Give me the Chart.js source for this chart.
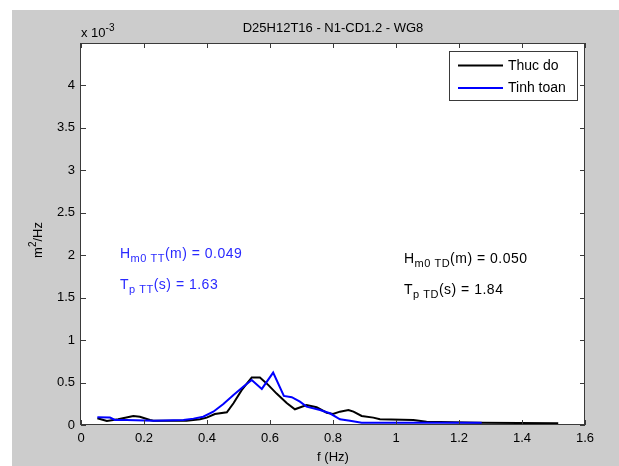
<!DOCTYPE html>
<html>
<head>
<meta charset="utf-8">
<script src="https://cdn.jsdelivr.net/npm/chart.js@4/dist/chart.umd.min.js"></script>
<style>
  html, body { margin: 0; padding: 0; background: #ffffff; }
  #wrap { width: 619px; height: 466px; }
</style>
</head>
<body>
<div id="wrap"><canvas id="c" width="619" height="466"></canvas></div>
<script>
// Wave spectrum at gauge WG8, spectral density in units of 1e-3 m^2/Hz
const chartTitle = 'D25H12T16 - N1-CD1.2 - WG8';
const seriesNames = ['Thuc do', 'Tinh toan'];

// Measured spectrum (Thuc do)
const measuredFreq = [0.052, 0.082, 0.118, 0.166, 0.187, 0.219, 0.23, 0.335, 0.378, 0.399,
  0.425, 0.463, 0.484, 0.51, 0.542, 0.568, 0.595, 0.621, 0.653, 0.679,
  0.716, 0.748, 0.78, 0.80, 0.822, 0.849, 0.865, 0.891, 0.928, 0.949,
  1.055, 1.097, 1.267, 1.515];
const measuredDensity = [0.08, 0.047, 0.067, 0.106, 0.098, 0.059, 0.05, 0.05, 0.067, 0.087,
  0.13, 0.15, 0.256, 0.41, 0.56, 0.56, 0.47, 0.37, 0.26, 0.185,
  0.236, 0.209, 0.145, 0.13, 0.157, 0.177, 0.157, 0.106, 0.087, 0.067,
  0.059, 0.039, 0.027, 0.02];

// Computed spectrum (Tinh toan)
const computedFreq = [0.052, 0.092, 0.108, 0.145, 0.23, 0.325, 0.357, 0.388, 0.42, 0.452,
  0.484, 0.515, 0.542, 0.574, 0.61, 0.644, 0.669, 0.695, 0.716, 0.759,
  0.79, 0.822, 0.854, 0.891, 1.272];
const computedDensity = [0.091, 0.087, 0.059, 0.059, 0.05, 0.059, 0.075, 0.098, 0.157, 0.248,
  0.354, 0.45, 0.53, 0.425, 0.617, 0.342, 0.327, 0.275, 0.216, 0.177,
  0.138, 0.067, 0.05, 0.027, 0.027];

// Axis ranges and tick steps
const xRange = [0, 1.6];
const xStep = 0.2;
const yRange = [0, 4.5];
const yStep = 0.5;
const yTickMax = 4;

// Wave parameters printed inside the axes
const computedStats = { hm0: '0.049', tp: '1.63' };
const measuredStats = { hm0: '0.050', tp: '1.84' };

const FONT = '"Liberation Sans", Arial, Helvetica, sans-serif';
const BLUE = '#0000ff';
const AXIS_COLOR = '#3a3a3a';

function toPoints(xs, ys) {
  return xs.map((x, i) => ({ x: x, y: ys[i] }));
}

// Draw a run of text pieces, some of them sub- or superscripted
function drawRich(ctx, x, y, parts, size, color, spacing) {
  ctx.save();
  ctx.fillStyle = color;
  ctx.textBaseline = 'alphabetic';
  ctx.textAlign = 'left';
  if ('letterSpacing' in ctx) ctx.letterSpacing = (spacing || 0) + 'px';
  let cx = x;
  for (const p of parts) {
    const s = p.sub || p.sup ? Math.round(size * 0.78) : size;
    ctx.font = s + 'px ' + FONT;
    const dy = p.sub ? 4 : (p.sup ? -6 : 0);
    ctx.fillText(p.t, cx, y + dy);
    cx += ctx.measureText(p.t).width;
  }
  ctx.restore();
  return cx - x;
}

function richWidth(ctx, parts, size) {
  let w = 0;
  ctx.save();
  for (const p of parts) {
    const s = p.sub || p.sup ? Math.round(size * 0.78) : size;
    ctx.font = s + 'px ' + FONT;
    w += ctx.measureText(p.t).width;
  }
  ctx.restore();
  return w;
}

const framePlugin = {
  id: 'frame',
  beforeDraw(chart) {
    const ctx = chart.ctx;
    const a = chart.chartArea;
    ctx.save();
    ctx.fillStyle = '#ffffff';
    ctx.fillRect(0, 0, chart.width, chart.height);
    ctx.fillStyle = '#cccccc';
    ctx.fillRect(12, 10, chart.width - 12, chart.height - 10);
    ctx.fillStyle = '#ffffff';
    ctx.fillRect(a.left, a.top, a.right - a.left, a.bottom - a.top);
    ctx.restore();
  },
  afterDraw(chart) {
    const ctx = chart.ctx;
    const a = chart.chartArea;
    const xs = chart.scales.x;
    const ys = chart.scales.y;
    const tick = 5;
    ctx.save();
    // axes box
    ctx.strokeStyle = AXIS_COLOR;
    ctx.lineWidth = 1;
    ctx.strokeRect(Math.round(a.left) - 0.5, Math.round(a.top) + 0.5,
      Math.round(a.right - a.left), Math.round(a.bottom - a.top) - 1);
    // inward tick marks on all four sides
    ctx.beginPath();
    for (const t of xs.ticks) {
      const px = Math.round(xs.getPixelForValue(t.value)) + 0.5;
      ctx.moveTo(px, a.bottom); ctx.lineTo(px, a.bottom - tick);
      ctx.moveTo(px, a.top); ctx.lineTo(px, a.top + tick);
    }
    for (const t of ys.ticks) {
      const py = Math.round(ys.getPixelForValue(t.value)) + 0.5;
      ctx.moveTo(a.left, py); ctx.lineTo(a.left + tick, py);
      ctx.moveTo(a.right, py); ctx.lineTo(a.right - tick, py);
    }
    ctx.stroke();

    // title and axis labels
    ctx.fillStyle = '#000000';
    ctx.font = '13px ' + FONT;
    ctx.textAlign = 'center';
    ctx.textBaseline = 'alphabetic';
    ctx.fillText(chartTitle, (a.left + a.right) / 2, 32);
    ctx.fillText('f (Hz)', (a.left + a.right) / 2, 461);
    drawRich(ctx, a.left, 37, [{ t: 'x 10' }, { t: '-3', sup: true }], 13, '#000000');

    const yLabel = [{ t: 'm' }, { t: '2', sup: true }, { t: '/Hz' }];
    const wl = richWidth(ctx, yLabel, 13);
    ctx.save();
    ctx.translate(42, 240);
    ctx.rotate(-Math.PI / 2);
    drawRich(ctx, -wl / 2, 0, yLabel, 13, '#000000');
    ctx.restore();

    // wave parameters
    drawRich(ctx, 120, 258, [{ t: 'H' }, { t: 'm0 TT', sub: true }, { t: '(m) = ' + computedStats.hm0 }], 14, '#2a2aff', 0.5);
    drawRich(ctx, 120, 289, [{ t: 'T' }, { t: 'p TT', sub: true }, { t: '(s) = ' + computedStats.tp }], 14, '#2a2aff', 0.5);
    drawRich(ctx, 404, 263, [{ t: 'H' }, { t: 'm0 TD', sub: true }, { t: '(m) = ' + measuredStats.hm0 }], 14, '#000000', 0.5);
    drawRich(ctx, 404, 294, [{ t: 'T' }, { t: 'p TD', sub: true }, { t: '(s) = ' + measuredStats.tp }], 14, '#000000', 0.5);

    // legend
    const lx = 449.5, ly = 51.5, lw = 128, lh = 49;
    ctx.fillStyle = '#ffffff';
    ctx.fillRect(lx, ly, lw, lh);
    ctx.strokeStyle = AXIS_COLOR;
    ctx.lineWidth = 1;
    ctx.strokeRect(lx, ly, lw, lh);
    const rows = [ly + 14, ly + 36.5];
    chart.data.datasets.forEach((ds, i) => {
      ctx.strokeStyle = ds.borderColor;
      ctx.lineWidth = 2;
      ctx.beginPath();
      ctx.moveTo(458, rows[i]);
      ctx.lineTo(503, rows[i]);
      ctx.stroke();
      ctx.fillStyle = '#000000';
      ctx.font = '14px ' + FONT;
      ctx.textAlign = 'left';
      ctx.textBaseline = 'middle';
      ctx.fillText(ds.label, 508, rows[i] + 0.5);
    });
    ctx.restore();
  }
};

const fmt = v => String(Number(v.toFixed(2)));

new Chart(document.getElementById('c'), {
  type: 'scatter',
  data: {
    datasets: [
      {
        label: seriesNames[0],
        data: toPoints(measuredFreq, measuredDensity),
        showLine: true,
        borderColor: '#000000',
        borderWidth: 2,
        pointRadius: 0,
        tension: 0,
        order: 1
      },
      {
        label: seriesNames[1],
        data: toPoints(computedFreq, computedDensity),
        showLine: true,
        borderColor: BLUE,
        borderWidth: 2,
        pointRadius: 0,
        tension: 0,
        order: 0
      }
    ]
  },
  options: {
    responsive: false,
    animation: false,
    devicePixelRatio: 1,
    layout: { padding: { left: 0, top: 43, right: 34, bottom: 0 } },
    plugins: {
      legend: { display: false },
      title: { display: false },
      tooltip: { enabled: false }
    },
    scales: {
      x: {
        type: 'linear',
        min: xRange[0],
        max: xRange[1],
        grid: { display: false, drawTicks: false },
        border: { display: false },
        ticks: {
          stepSize: xStep,
          padding: 6,
          color: '#000000',
          font: { family: FONT, size: 13 },
          maxRotation: 0,
          callback: v => fmt(v)
        },
        afterFit: s => { s.height = 41; }
      },
      y: {
        type: 'linear',
        min: yRange[0],
        max: yRange[1],
        grid: { display: false, drawTicks: false },
        border: { display: false },
        ticks: {
          stepSize: yStep,
          padding: 6,
          color: '#000000',
          font: { family: FONT, size: 13 },
          callback: v => fmt(v)
        },
        afterBuildTicks: s => { s.ticks = s.ticks.filter(t => t.value <= yTickMax + 1e-9); },
        afterFit: s => { s.width = 81; }
      }
    }
  },
  plugins: [framePlugin]
});
</script>
</body>
</html>
